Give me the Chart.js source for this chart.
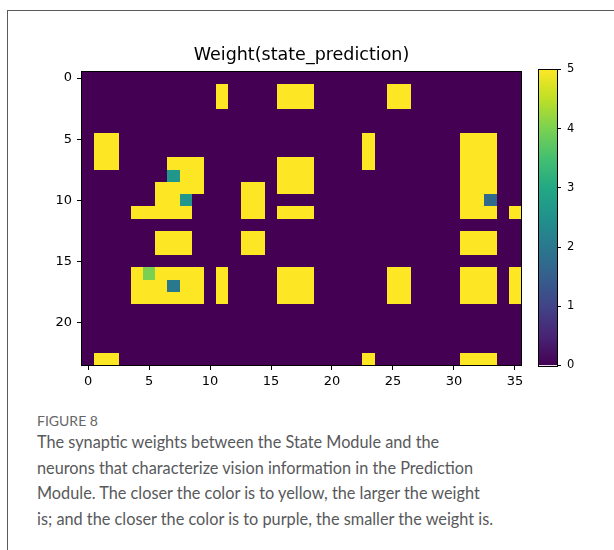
<!DOCTYPE html>
<html>
<head>
<meta charset="utf-8">
<script src="https://cdn.jsdelivr.net/npm/chart.js@4.4.1/dist/chart.umd.min.js"></script>
<style>
  html, body { margin: 0; padding: 0; background: #fff; }
  body { width: 614px; height: 550px; position: relative; overflow: hidden; }
  .frame { position: absolute; left: 7px; top: 10px; width: 620px; height: 560px; border: 1px solid #5a5a5a; box-sizing: border-box; }
  #main { position: absolute; left: 0; top: 0; }
  #cbar { position: absolute; left: 520px; top: 0; }
  .figlabel { position: absolute; left: 37px; top: 412px; font-family: Lato, sans-serif; font-size: 14px; line-height: 18px; color: #666; }
  .caption { position: absolute; left: 37px; top: 429px; font-family: Lato, sans-serif; font-size: 16.3px; line-height: 25.7px; color: #58595b; white-space: nowrap; }
</style>
</head>
<body>
<div class="frame"></div>
<canvas id="main" width="540" height="400" style="width:540px;height:400px"></canvas>
<canvas id="cbar" width="94" height="400" style="width:94px;height:400px"></canvas>
<div class="figlabel">FIGURE 8</div>
<div class="caption">The synaptic weights between the State Module and the<br>neurons that characterize vision information in the Prediction<br>Module. The closer the color is to yellow, the larger the weight<br>is; and the closer the color is to purple, the smaller the weight is.</div>
<script>
// ---- data ----
const chartTitle = "Weight(state_prediction)";
const xTicks = [0, 5, 10, 15, 20, 25, 30, 35];
const yTicks = [0, 5, 10, 15, 20];
const cbTicks = [0, 1, 2, 3, 4, 5];
const valueMin = 0;
const valueMax = 5;
// weights[row][col], 24 rows x 36 columns
const weights = [
  [0,0,0,0,0,0,0,0,0,0, 0,0,0,0,0,0,0,0,0,0, 0,0,0,0,0,0,0,0,0,0, 0,0,0,0,0,0],
  [0,0,0,0,0,0,0,0,0,0, 0,5,0,0,0,0,5,5,5,0, 0,0,0,0,0,5,5,0,0,0, 0,0,0,0,0,0],
  [0,0,0,0,0,0,0,0,0,0, 0,5,0,0,0,0,5,5,5,0, 0,0,0,0,0,5,5,0,0,0, 0,0,0,0,0,0],
  [0,0,0,0,0,0,0,0,0,0, 0,0,0,0,0,0,0,0,0,0, 0,0,0,0,0,0,0,0,0,0, 0,0,0,0,0,0],
  [0,0,0,0,0,0,0,0,0,0, 0,0,0,0,0,0,0,0,0,0, 0,0,0,0,0,0,0,0,0,0, 0,0,0,0,0,0],
  [0,5,5,0,0,0,0,0,0,0, 0,0,0,0,0,0,0,0,0,0, 0,0,0,5,0,0,0,0,0,0, 0,5,5,5,0,0],
  [0,5,5,0,0,0,0,0,0,0, 0,0,0,0,0,0,0,0,0,0, 0,0,0,5,0,0,0,0,0,0, 0,5,5,5,0,0],
  [0,5,5,0,0,0,0,5,5,5, 0,0,0,0,0,0,5,5,5,0, 0,0,0,5,0,0,0,0,0,0, 0,5,5,5,0,0],
  [0,0,0,0,0,0,0,2.6,5,5, 0,0,0,0,0,0,5,5,5,0, 0,0,0,0,0,0,0,0,0,0, 0,5,5,5,0,0],
  [0,0,0,0,0,0,5,5,5,5, 0,0,0,5,5,0,5,5,5,0, 0,0,0,0,0,0,0,0,0,0, 0,5,5,5,0,0],
  [0,0,0,0,0,0,5,5,2.6,0, 0,0,0,5,5,0,0,0,0,0, 0,0,0,0,0,0,0,0,0,0, 0,5,5,1.7,0,0],
  [0,0,0,0,5,5,5,5,5,0, 0,0,0,5,5,0,5,5,5,0, 0,0,0,0,0,0,0,0,0,0, 0,5,5,5,0,5],
  [0,0,0,0,0,0,0,0,0,0, 0,0,0,0,0,0,0,0,0,0, 0,0,0,0,0,0,0,0,0,0, 0,0,0,0,0,0],
  [0,0,0,0,0,0,5,5,5,0, 0,0,0,5,5,0,0,0,0,0, 0,0,0,0,0,0,0,0,0,0, 0,5,5,5,0,0],
  [0,0,0,0,0,0,5,5,5,0, 0,0,0,5,5,0,0,0,0,0, 0,0,0,0,0,0,0,0,0,0, 0,5,5,5,0,0],
  [0,0,0,0,0,0,0,0,0,0, 0,0,0,0,0,0,0,0,0,0, 0,0,0,0,0,0,0,0,0,0, 0,0,0,0,0,0],
  [0,0,0,0,5,4,5,5,5,5, 0,5,0,0,0,0,5,5,5,0, 0,0,0,0,0,5,5,0,0,0, 0,5,5,5,0,5],
  [0,0,0,0,5,5,5,2,5,5, 0,5,0,0,0,0,5,5,5,0, 0,0,0,0,0,5,5,0,0,0, 0,5,5,5,0,5],
  [0,0,0,0,5,5,5,5,5,5, 0,5,0,0,0,0,5,5,5,0, 0,0,0,0,0,5,5,0,0,0, 0,5,5,5,0,5],
  [0,0,0,0,0,0,0,0,0,0, 0,0,0,0,0,0,0,0,0,0, 0,0,0,0,0,0,0,0,0,0, 0,0,0,0,0,0],
  [0,0,0,0,0,0,0,0,0,0, 0,0,0,0,0,0,0,0,0,0, 0,0,0,0,0,0,0,0,0,0, 0,0,0,0,0,0],
  [0,0,0,0,0,0,0,0,0,0, 0,0,0,0,0,0,0,0,0,0, 0,0,0,0,0,0,0,0,0,0, 0,0,0,0,0,0],
  [0,0,0,0,0,0,0,0,0,0, 0,0,0,0,0,0,0,0,0,0, 0,0,0,0,0,0,0,0,0,0, 0,0,0,0,0,0],
  [0,5,5,0,0,0,0,0,0,0, 0,0,0,0,0,0,0,0,0,0, 0,0,0,5,0,0,0,0,0,0, 0,5,5,5,0,0]
];

// ---- colormap (viridis) ----
const viridisStops = ["#440154","#482475","#414487","#355f8d","#2a788e","#21918c","#22a884","#44bf70","#7ad151","#bddf26","#fde725"];
function hexToRgb(h) { return [parseInt(h.slice(1,3),16), parseInt(h.slice(3,5),16), parseInt(h.slice(5,7),16)]; }
function viridis(t) {
  t = Math.max(0, Math.min(1, t));
  const n = viridisStops.length - 1;
  const i = Math.min(n - 1, Math.floor(t * n));
  const f = t * n - i;
  const a = hexToRgb(viridisStops[i]), b = hexToRgb(viridisStops[i + 1]);
  return "rgb(" + a.map((v, k) => Math.round(v + (b[k] - v) * f)).join(",") + ")";
}

Chart.defaults.font.family = "'DejaVu Sans', sans-serif";
Chart.defaults.color = "#000";

const nRows = weights.length;
const nCols = weights[0].length;
const cells = [];
weights.forEach((row, r) => row.forEach((v, c) => cells.push({ x: c, y: r, v: v })));

const heatPlugin = {
  id: "heatCells",
  beforeDatasetsDraw(chart) {
    const ctx = chart.ctx, xs = chart.scales.x, ys = chart.scales.y;
    ctx.save();
    chart.data.datasets[0].data.forEach(p => {
      const x0 = Math.round(xs.getPixelForValue(p.x - 0.5));
      const x1 = Math.round(xs.getPixelForValue(p.x + 0.5));
      const y0 = Math.round(ys.getPixelForValue(p.y - 0.5));
      const y1 = Math.round(ys.getPixelForValue(p.y + 0.5));
      ctx.fillStyle = viridis((p.v - valueMin) / (valueMax - valueMin));
      ctx.fillRect(Math.min(x0, x1), Math.min(y0, y1), Math.abs(x1 - x0), Math.abs(y1 - y0));
    });
    ctx.restore();
  }
};
const framePlugin = {
  id: "frameBox",
  afterDatasetsDraw(chart) {
    const a = chart.chartArea, ctx = chart.ctx;
    ctx.save();
    ctx.strokeStyle = "#000";
    ctx.lineWidth = 1;
    ctx.strokeRect(Math.round(a.left) - 0.5, Math.round(a.top) - 0.5, Math.round(a.right - a.left) + 1, Math.round(a.bottom - a.top) + 1);
    ctx.restore();
  }
};

new Chart(document.getElementById("main"), {
  type: "scatter",
  data: { datasets: [{ data: cells, pointRadius: 0, pointHoverRadius: 0 }] },
  options: {
    responsive: false,
    animation: false,
    events: [],
    layout: { padding: { left: 52, right: 19, top: 0, bottom: 5 } },
    plugins: {
      legend: { display: false },
      tooltip: { enabled: false },
      title: {
        display: true, text: chartTitle, color: "#000", fullSize: false,
        font: { family: "'DejaVu Sans', sans-serif", size: 17.5, weight: "normal", lineHeight: 1.2 },
        padding: { top: 45, bottom: 6 }
      }
    },
    scales: {
      x: {
        type: "linear", position: "bottom", min: -0.5, max: nCols - 0.5,
        afterBuildTicks: s => { s.ticks = xTicks.map(v => ({ value: v })); },
        afterFit: s => { s.height = 30; },
        grid: { display: true, drawOnChartArea: false, drawTicks: true, tickLength: 5, color: "#000", lineWidth: 1 },
        border: { display: false },
        ticks: { font: { size: 13 }, color: "#000", padding: 4, autoSkip: false, maxRotation: 0 }
      },
      y: {
        type: "linear", position: "left", reverse: true, min: -0.5, max: nRows - 0.5,
        afterBuildTicks: s => { s.ticks = yTicks.map(v => ({ value: v })); },
        afterFit: s => { s.width = 30; },
        grid: { display: true, drawOnChartArea: false, drawTicks: true, tickLength: 5, color: "#000", lineWidth: 1 },
        border: { display: false },
        ticks: { font: { size: 13 }, color: "#000", padding: 5, autoSkip: false }
      }
    }
  },
  plugins: [heatPlugin, framePlugin]
});

new Chart(document.getElementById("cbar"), {
  type: "bar",
  data: {
    labels: [""],
    datasets: [{
      data: [valueMax],
      borderWidth: 0,
      barPercentage: 1,
      categoryPercentage: 1,
      backgroundColor: (c) => {
        const a = c.chart.chartArea;
        if (!a) return viridisStops[0];
        const g = c.chart.ctx.createLinearGradient(0, a.bottom, 0, a.top);
        viridisStops.forEach((col, i) => g.addColorStop(i / (viridisStops.length - 1), col));
        return g;
      }
    }]
  },
  options: {
    responsive: false,
    animation: false,
    events: [],
    layout: { padding: { left: 19, right: 27, top: 69.5, bottom: 34.5 } },
    plugins: { legend: { display: false }, tooltip: { enabled: false } },
    scales: {
      x: { display: false },
      y: {
        position: "right", min: valueMin, max: valueMax,
        afterBuildTicks: s => { s.ticks = cbTicks.map(v => ({ value: v })); },
        afterFit: s => { s.width = 30; },
        grid: { display: true, drawOnChartArea: false, drawTicks: true, tickLength: 4, color: "#000", lineWidth: 1 },
        border: { display: false },
        ticks: { font: { size: 11.5 }, color: "#000", padding: 6 }
      }
    }
  },
  plugins: [framePlugin]
});
</script>
</body>
</html>
